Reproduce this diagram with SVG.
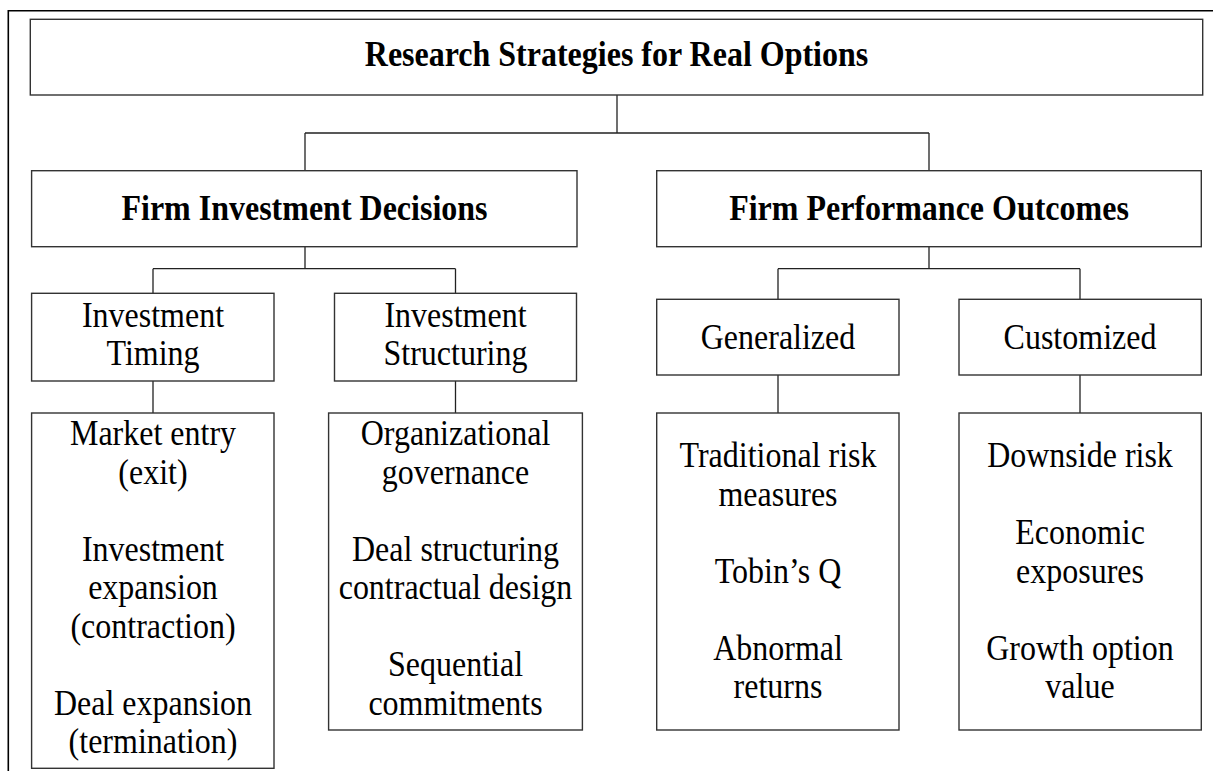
<svg xmlns="http://www.w3.org/2000/svg" width="1213" height="771" viewBox="0 0 1213 771">
<style>
  .box { fill: #ffffff; stroke: #333333; stroke-width: 1.4; }
  .frame { fill: none; stroke: #000000; stroke-width: 1.6; }
  .conn { fill: none; stroke: #222222; stroke-width: 1.3; }
  text { font-family: "Liberation Serif", "Times New Roman", serif; font-size: 32px; fill: #000000; text-anchor: middle; }
  .b { font-weight: bold; }
</style>
<rect width="1213" height="771" fill="#ffffff"/>
<g id="frame">
  <path class="frame" d="M8.3,771 V10.7 H1213"/>
</g>
<g id="connectors">
  <path class="conn" d="M617,95 V133 M305,133 H929 M305,133 V170.7 M929,133 V170.7"/>
  <path class="conn" d="M305,246.7 V268.7 M153,268.7 H455.5 M153,268.7 V293.3 M455.5,268.7 V293.3"/>
  <path class="conn" d="M929,246.7 V268.7 M778,268.7 H1080 M778,268.7 V299.3 M1080,268.7 V299.3"/>
  <path class="conn" d="M153,381 V413 M455.5,381 V413 M778,375 V413 M1080,375 V413"/>
</g>
<g id="root">
  <rect class="box" x="30.3" y="19.3" width="1172.4" height="75.7"/>
  <text class="b" transform="translate(616.5,66) scale(1,1.1)">Research Strategies for Real Options</text>
</g>
<g id="fid">
  <rect class="box" x="31.6" y="170.7" width="545.4" height="76"/>
  <text class="b" transform="translate(304.5,220) scale(1,1.1)">Firm Investment Decisions</text>
</g>
<g id="fpo">
  <rect class="box" x="656.7" y="170.7" width="544.6" height="76"/>
  <text class="b" transform="translate(929,220) scale(1,1.1)">Firm Performance Outcomes</text>
</g>
<g id="timing">
  <rect class="box" x="31.6" y="293.3" width="242.4" height="87.7"/>
  <text transform="translate(153,326.5) scale(1,1.12)">Investment</text>
  <text transform="translate(153,365) scale(1,1.12)">Timing</text>
</g>
<g id="structuring">
  <rect class="box" x="334.5" y="293.3" width="242" height="87.7"/>
  <text transform="translate(455.5,326.5) scale(1,1.12)">Investment</text>
  <text transform="translate(455.5,365) scale(1,1.12)">Structuring</text>
</g>
<g id="generalized">
  <rect class="box" x="656.7" y="299.3" width="242.3" height="75.7"/>
  <text transform="translate(778,349) scale(1,1.12)">Generalized</text>
</g>
<g id="customized">
  <rect class="box" x="959" y="299.3" width="242.3" height="75.7"/>
  <text transform="translate(1080,349) scale(1,1.12)">Customized</text>
</g>
<g id="timing-detail">
  <rect class="box" x="31.6" y="413" width="242.4" height="355.3"/>
  <text transform="translate(153,445) scale(1,1.12)">Market entry</text>
  <text transform="translate(153,483.5) scale(1,1.12)">(exit)</text>
  <text transform="translate(153,560.5) scale(1,1.12)">Investment</text>
  <text transform="translate(153,599) scale(1,1.12)">expansion</text>
  <text transform="translate(153,637.5) scale(1,1.12)">(contraction)</text>
  <text transform="translate(153,714.5) scale(1,1.12)">Deal expansion</text>
  <text transform="translate(153,753) scale(1,1.12)">(termination)</text>
</g>
<g id="structuring-detail">
  <rect class="box" x="328.6" y="413" width="253.8" height="317"/>
  <text transform="translate(455.5,445) scale(1,1.12)">Organizational</text>
  <text transform="translate(455.5,483.5) scale(1,1.12)">governance</text>
  <text transform="translate(455.5,560.5) scale(1,1.12)">Deal structuring</text>
  <text transform="translate(455.5,599) scale(1,1.12)">contractual design</text>
  <text transform="translate(455.5,676) scale(1,1.12)">Sequential</text>
  <text transform="translate(455.5,714.5) scale(1,1.12)">commitments</text>
</g>
<g id="generalized-detail">
  <rect class="box" x="656.7" y="413" width="242.3" height="317"/>
  <text transform="translate(778,467) scale(1,1.12)">Traditional risk</text>
  <text transform="translate(778,505.5) scale(1,1.12)">measures</text>
  <text transform="translate(778,582.5) scale(1,1.12)">Tobin’s Q</text>
  <text transform="translate(778,659.5) scale(1,1.12)">Abnormal</text>
  <text transform="translate(778,698) scale(1,1.12)">returns</text>
</g>
<g id="customized-detail">
  <rect class="box" x="959" y="413" width="242.3" height="317"/>
  <text transform="translate(1080,467) scale(1,1.12)">Downside risk</text>
  <text transform="translate(1080,544) scale(1,1.12)">Economic</text>
  <text transform="translate(1080,582.5) scale(1,1.12)">exposures</text>
  <text transform="translate(1080,659.5) scale(1,1.12)">Growth option</text>
  <text transform="translate(1080,698) scale(1,1.12)">value</text>
</g>
</svg>
